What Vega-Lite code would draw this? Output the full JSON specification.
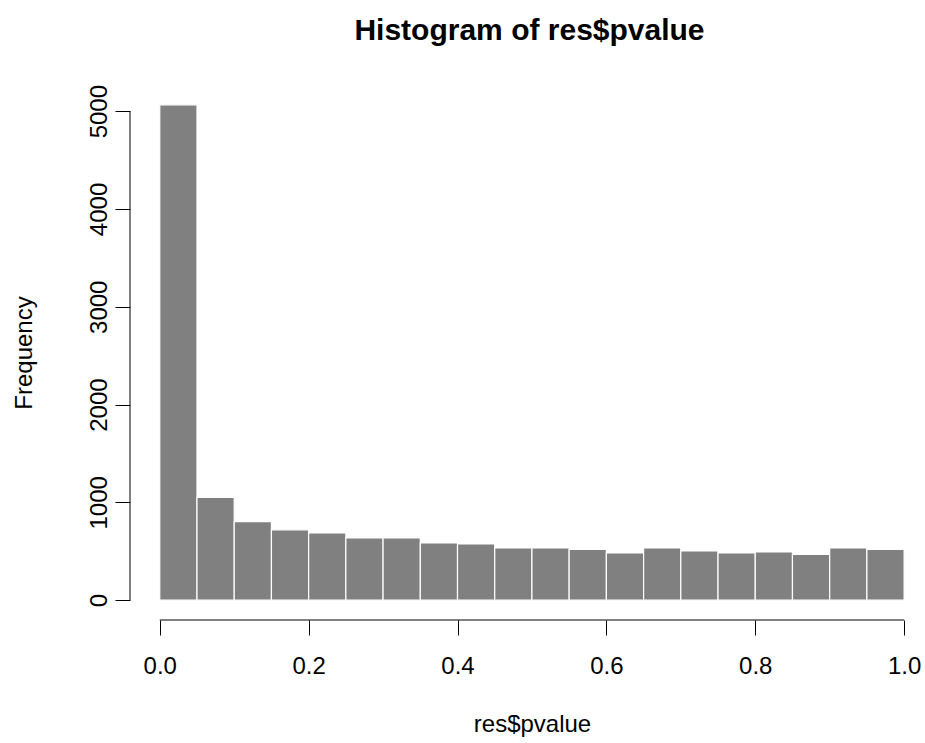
{
  "$schema": "https://vega.github.io/schema/vega-lite/v6.json",
  "width": 789,
  "height": 535,
  "autosize": {"type": "none"},
  "padding": {"left": 130, "top": 85, "right": 6, "bottom": 123},
  "background": "white",
  "config": {
    "view": {"stroke": null},
    "font": "Liberation Sans"
  },
  "title": {
    "text": "Histogram of res$pvalue",
    "font": "Liberation Sans",
    "fontSize": 30,
    "fontWeight": "bold",
    "color": "black",
    "anchor": "middle",
    "baseline": "alphabetic",
    "offset": 14,
    "dx": 5
  },
  "datasets": {
    "bins": [
      {"bin_start": 0.00, "bin_end": 0.05, "count": 5065},
      {"bin_start": 0.05, "bin_end": 0.10, "count": 1052},
      {"bin_start": 0.10, "bin_end": 0.15, "count": 803},
      {"bin_start": 0.15, "bin_end": 0.20, "count": 719},
      {"bin_start": 0.20, "bin_end": 0.25, "count": 688},
      {"bin_start": 0.25, "bin_end": 0.30, "count": 637},
      {"bin_start": 0.30, "bin_end": 0.35, "count": 637},
      {"bin_start": 0.35, "bin_end": 0.40, "count": 585},
      {"bin_start": 0.40, "bin_end": 0.45, "count": 575},
      {"bin_start": 0.45, "bin_end": 0.50, "count": 534},
      {"bin_start": 0.50, "bin_end": 0.55, "count": 534},
      {"bin_start": 0.55, "bin_end": 0.60, "count": 520},
      {"bin_start": 0.60, "bin_end": 0.65, "count": 483},
      {"bin_start": 0.65, "bin_end": 0.70, "count": 534},
      {"bin_start": 0.70, "bin_end": 0.75, "count": 504},
      {"bin_start": 0.75, "bin_end": 0.80, "count": 483},
      {"bin_start": 0.80, "bin_end": 0.85, "count": 493},
      {"bin_start": 0.85, "bin_end": 0.90, "count": 469},
      {"bin_start": 0.90, "bin_end": 0.95, "count": 534},
      {"bin_start": 0.95, "bin_end": 1.00, "count": 520}
    ],
    "single": [{}]
  },
  "layer": [
    {
      "data": {"name": "bins"},
      "mark": {"type": "bar", "fill": "#808080", "stroke": "white", "strokeWidth": 1.2},
      "encoding": {
        "x": {
          "field": "bin_start",
          "type": "quantitative",
          "scale": {"domain": [-0.04, 1.02], "nice": false, "zero": false},
          "axis": {
            "title": "res$pvalue",
            "values": [0, 0.2, 0.4, 0.6, 0.8, 1.0],
            "format": ".1f",
            "domain": false,
            "grid": false,
            "tickSize": 15,
            "tickColor": "black",
            "tickWidth": 1,
            "labelFontSize": 24,
            "labelFont": "Liberation Sans",
            "labelColor": "black",
            "labelPadding": 19,
            "labelFlush": false,
            "labelOverlap": false,
            "titleFontSize": 24,
            "titleFont": "Liberation Sans",
            "titleFontWeight": "normal",
            "titleColor": "black",
            "titlePadding": 34,
            "titleX": 402
          }
        },
        "x2": {"field": "bin_end"},
        "y": {
          "field": "count",
          "type": "quantitative",
          "scale": {"domain": [-202.6, 5267.6], "nice": false, "zero": false},
          "axis": {
            "title": "Frequency",
            "values": [0, 1000, 2000, 3000, 4000, 5000],
            "format": "d",
            "domain": false,
            "grid": false,
            "tickSize": 15,
            "tickColor": "black",
            "tickWidth": 1,
            "labelFontSize": 24,
            "labelFont": "Liberation Sans",
            "labelColor": "black",
            "labelAngle": -90,
            "labelAlign": "center",
            "labelBaseline": "alphabetic",
            "labelPadding": 9,
            "labelFlush": false,
            "labelOverlap": false,
            "titleFontSize": 24,
            "titleFont": "Liberation Sans",
            "titleFontWeight": "normal",
            "titleColor": "black",
            "titlePadding": 51
          }
        },
        "y2": {"datum": 0}
      }
    },
    {
      "data": {"name": "single"},
      "mark": {"type": "rule", "color": "black", "strokeWidth": 1},
      "encoding": {
        "x": {"datum": -0.04, "type": "quantitative"},
        "y": {"datum": 0, "type": "quantitative"},
        "y2": {"datum": 5000}
      }
    },
    {
      "data": {"name": "single"},
      "mark": {"type": "rule", "color": "black", "strokeWidth": 1},
      "encoding": {
        "x": {"datum": 0, "type": "quantitative"},
        "x2": {"datum": 1},
        "y": {"datum": -202.6, "type": "quantitative"}
      }
    }
  ]
}
